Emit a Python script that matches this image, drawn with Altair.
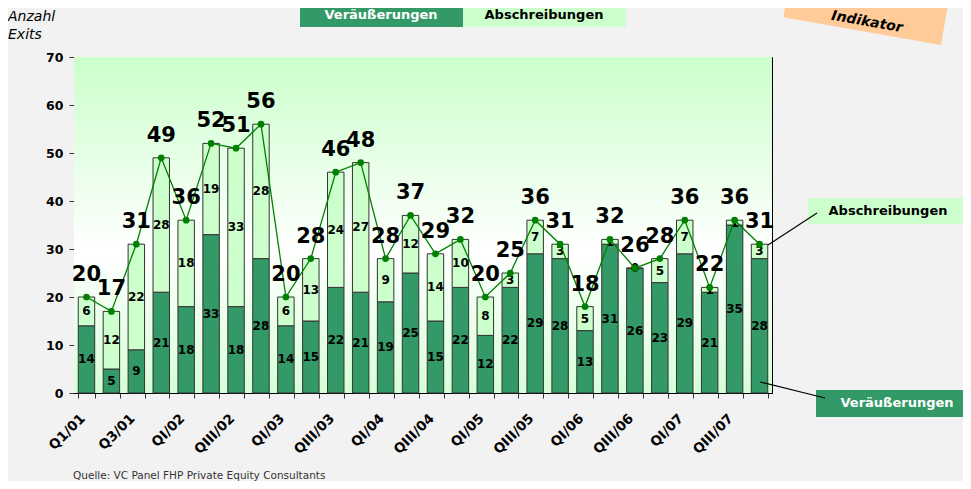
import altair as alt
import pandas as pd

FONT = "DejaVu Sans"

quarters = ["Q1/01", "Q2/01", "Q3/01", "Q4/01",
            "QI/02", "QII/02", "QIII/02", "QIV/02",
            "QI/03", "QII/03", "QIII/03", "QIV/03",
            "QI/04", "QII/04", "QIII/04", "QIV/04",
            "QI/05", "QII/05", "QIII/05", "QIV/05",
            "QI/06", "QII/06", "QIII/06", "QIV/06",
            "QI/07", "QII/07", "QIII/07", "QIV/07"]
shown_labels = ["Q1/01", "Q3/01", "QI/02", "QIII/02", "QI/03", "QIII/03", "QI/04",
                "QIII/04", "QI/05", "QIII/05", "QI/06", "QIII/06", "QI/07", "QIII/07"]
veraeusserungen = [14, 5, 9, 21, 18, 33, 18, 28, 14, 15, 22, 21, 19, 25,
                   15, 22, 12, 22, 29, 28, 13, 31, 26, 23, 29, 21, 35, 28]
abschreibungen = [6, 12, 22, 28, 18, 19, 33, 28, 6, 13, 24, 27, 9, 12,
                  14, 10, 8, 3, 7, 3, 5, 1, 0, 5, 7, 1, 1, 3]

DARK = "#339966"
LIGHT = "#CCFFCC"
W, H = 698, 336

df = pd.DataFrame({"q": quarters, "v": veraeusserungen, "a": abschreibungen})
df["total"] = df["v"] + df["a"]
df["v_mid"] = df["v"] / 2
df["a_mid"] = df["v"] + df["a"] / 2

label_list = "[" + ",".join(f"'{s}'" for s in shown_labels) + "]"
x_enc = alt.X(
    "q:N", sort=quarters, title=None,
    scale=alt.Scale(paddingInner=0.34, paddingOuter=0.17),
    axis=alt.Axis(
        labelAngle=-45, labelAlign="right", labelBaseline="middle",
        labelFont=FONT, labelFontSize=13.5, labelFontWeight="bold", labelColor="black",
        labelExpr=f"indexof({label_list}, datum.value) >= 0 ? datum.value : ''",
        tickBand="extent", tickSize=5, tickColor="#333333", domainColor="black",
        labelPadding=18, labelOffset=-4, labelOverlap=False,
    ),
)
y_scale = alt.Scale(domain=[0, 70], nice=False)
y_axis = alt.Axis(
    values=[0, 10, 20, 30, 40, 50, 60, 70], grid=False, title=None,
    labelFont=FONT, labelFontSize=12.5, labelFontWeight="bold", labelColor="black",
    tickSize=5, tickColor="#333333", domainColor="black", labelPadding=6,
)

base = alt.Chart(df)
one = pd.DataFrame({"k": [0]})

gradient = alt.Gradient(
    gradient="linear",
    stops=[alt.GradientStop(color="#CCFFCC", offset=0),
           alt.GradientStop(color="#FFFFFF", offset=0.58),
           alt.GradientStop(color="#D6FFD6", offset=1)],
    x1=0, x2=0, y1=0, y2=1,
)
bg = alt.Chart(one).mark_rect(fill=gradient).encode(
    x=alt.value(0), x2=alt.value(W), y=alt.value(0), y2=alt.value(H))

dark_bars = base.mark_bar(color=DARK, stroke="#333333", strokeWidth=1).encode(
    x=x_enc, y=alt.Y("v:Q", scale=y_scale, axis=y_axis))
light_bars = base.mark_bar(color=LIGHT, stroke="#333333", strokeWidth=1).encode(
    x=x_enc, y=alt.Y("v:Q", scale=y_scale), y2="total:Q")

line = base.mark_line(color="#008000", strokeWidth=1.3).encode(
    x=x_enc, y=alt.Y("total:Q", scale=y_scale))
points = base.mark_circle(color="#008000", size=45, opacity=1).encode(
    x=x_enc, y=alt.Y("total:Q", scale=y_scale))

v_text = base.mark_text(font=FONT, fontSize=12, fontWeight="bold", color="black").encode(
    x=x_enc, y=alt.Y("v_mid:Q", scale=y_scale), text="v:Q")
a_text = base.mark_text(font=FONT, fontSize=12, fontWeight="bold", color="black").encode(
    x=x_enc, y=alt.Y("a_mid:Q", scale=y_scale), text="a:Q")
t_text = base.mark_text(font=FONT, fontSize=21, fontWeight="bold", color="black", dy=-22).encode(
    x=x_enc, y=alt.Y("total:Q", scale=y_scale), text="total:Q")


def box(x1, x2, y1, y2, color):
    return alt.Chart(one).mark_rect(color=color).encode(
        x=alt.value(x1), x2=alt.value(x2), y=alt.value(y1), y2=alt.value(y2))


def label(text, x, y, size=13, color="black", weight="bold", style="normal", align="center", angle=0):
    d = pd.DataFrame({"t": [text]})
    return alt.Chart(d).mark_text(
        font=FONT, fontSize=size, fontWeight=weight, fontStyle=style, color=color,
        align=align, baseline="middle", angle=angle,
    ).encode(x=alt.value(x), y=alt.value(y), text="t:N")


def connector(x1, y1, x2, y2):
    return alt.Chart(one).mark_rule(color="black", strokeWidth=1.2).encode(
        x=alt.value(x1), x2=alt.value(x2), y=alt.value(y1), y2=alt.value(y2))


indik_box = alt.Chart(one).mark_point(
    shape="M-1,-0.28L1,-0.28L1,0.28L-1,0.28Z", size=25600, angle=10,
    filled=True, fill="#FFCC99", opacity=1, strokeWidth=0,
).encode(x=alt.value(792), y=alt.value(-48))

annotations = [
    box(226, 389, -57, -30, DARK),
    box(389, 552, -57, -30, LIGHT),
    label("Veräußerungen", 307, -42, color="white"),
    label("Abschreibungen", 470, -42),
    indik_box,
    label("Indikator", 793, -35, size=14, style="italic", angle=10),
    label("Anzahl", -66, -40, size=14, weight="normal", style="italic", align="left"),
    label("Exits", -66, -22, size=14, weight="normal", style="italic", align="left"),
    box(734, 897, 141, 167, LIGHT),
    label("Abschreibungen", 814, 154),
    box(742, 897, 333, 360, DARK),
    label("Veräußerungen", 823, 346, color="white"),
    connector(694, 188, 743, 156),
    connector(686, 325, 751, 341),
    label("Quelle: VC Panel FHP Private Equity Consultants", -1, 419, size=10.5,
          weight="normal", color="#333333", align="left"),
]

chart = alt.layer(
    bg, dark_bars, light_bars, v_text, a_text, line, points, t_text, *annotations
).properties(
    width=W, height=H,
    autosize=alt.AutoSizeParams(type="none"),
    padding={"left": 66, "top": 49, "right": 191, "bottom": 88},
    background="#F2F2F2",
).configure_view(stroke="black", strokeWidth=1)

chart.save("out.html", embed_options={"renderer": "svg", "actions": False})
